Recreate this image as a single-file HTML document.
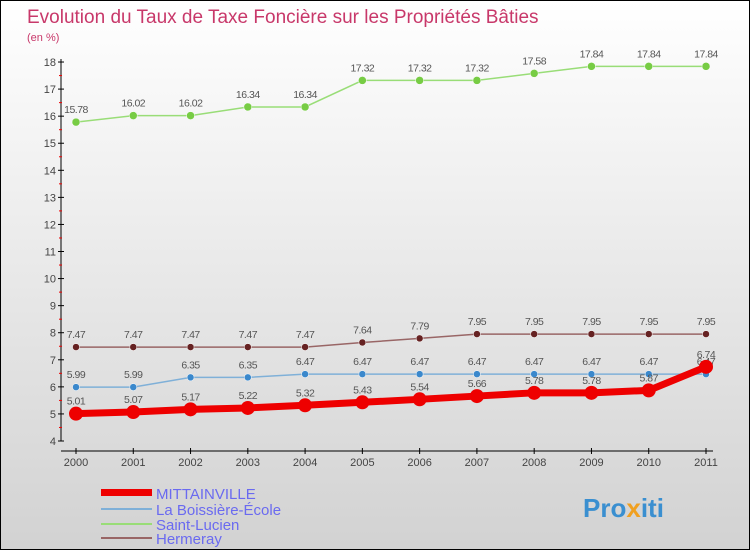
<!DOCTYPE html>
<html><head><meta charset="utf-8"><style>
body{margin:0}
#c{width:748px;height:548px;border:1px solid #000;background:linear-gradient(#fff,#d2d2d2);position:relative;font-family:"Liberation Sans",sans-serif;overflow:hidden}
</style></head><body>
<div id="c">
<svg id="s" width="748" height="548" style="position:absolute;left:0;top:0">
<text x="26" y="22" font-size="19" fill="#c8386a">Evolution du Taux de Taxe Foncière sur les Propriétés Bâties</text>
<text x="26" y="40" font-size="11" fill="#c8386a">(en %)</text>
<g id="ax"></g><g id="ser"></g>
<g>
<rect x="100" y="488" width="51" height="7" fill="#e00"/>
<text x="155" y="498" font-size="15" fill="#6a6af0">MITTAINVILLE</text>
<rect x="100" y="507" width="51" height="2" fill="#7fb0d8"/>
<text x="155" y="514" font-size="15" fill="#6a6af0">La Boissière-École</text>
<rect x="100" y="522" width="51" height="2" fill="#99dd77"/>
<text x="155" y="529" font-size="15" fill="#6a6af0">Saint-Lucien</text>
<rect x="100" y="536" width="51" height="2" fill="#996666"/>
<text x="155" y="543" font-size="15" fill="#6a6af0">Hermeray</text>
</g>
<text x="582" y="516" font-size="26" font-weight="bold" fill="#3a8fd0">Pro<tspan fill="#f0a020">x</tspan>iti</text>
</svg>
</div>
<script>
const years=[2000,2001,2002,2003,2004,2005,2006,2007,2008,2009,2010,2011];
const yTicks=[4,5,6,7,8,9,10,11,12,13,14,15,16,17,18];
const mittainville=[5.01,5.07,5.17,5.22,5.32,5.43,5.54,5.66,5.78,5.78,5.87,6.74];
const boissiere=[5.99,5.99,6.35,6.35,6.47,6.47,6.47,6.47,6.47,6.47,6.47,6.47];
const saintLucien=[15.78,16.02,16.02,16.34,16.34,17.32,17.32,17.32,17.58,17.84,17.84,17.84];
const hermeray=[7.47,7.47,7.47,7.47,7.47,7.64,7.79,7.95,7.95,7.95,7.95,7.95];
const NS="http://www.w3.org/2000/svg";
const X=i=>75+i*(630/11), Y=v=>440-(v-4)*27.07;
function mk(t,a,p){const e=document.createElementNS(NS,t);for(const k in a)e.setAttribute(k,a[k]);p.appendChild(e);return e;}
const ax=document.getElementById('ax'),ser=document.getElementById('ser');
mk('line',{x1:60,y1:58,x2:60,y2:440,stroke:'#000'},ax);
mk('line',{x1:60,y1:450,x2:712,y2:450,stroke:'#000'},ax);
yTicks.forEach(v=>{mk('line',{x1:57,y1:Y(v),x2:63,y2:Y(v),stroke:'#000'},ax);
 if(v<18)mk('line',{x1:58,y1:Y(v+0.5),x2:61,y2:Y(v+0.5),stroke:'#e00'},ax);
 const t=mk('text',{x:55,y:Y(v)+4,'font-size':11,fill:'#444','text-anchor':'end'},ax);t.textContent=v;
 });
years.forEach((yr,i)=>{mk('line',{x1:X(i),y1:447,x2:X(i),y2:453,stroke:'#000'},ax);
 const t=mk('text',{x:X(i),y:465,'font-size':11,fill:'#444','text-anchor':'middle'},ax);t.textContent=yr;
 });
function series(d,name,col,dot,w,r,hideLast){
 const g=mk('g',{},ser);
 mk('polyline',{points:d.map((v,i)=>X(i)+','+Y(v)).join(' '),fill:'none',stroke:col,'stroke-width':w},g);
 d.forEach((v,i)=>{const c=mk('circle',{cx:X(i),cy:Y(v),r:r,fill:dot,stroke:col==dot?'none':'#fff','stroke-width':0.5},g);
  
  const t=mk('text',{x:X(i),y:Y(v)-9,'font-size':10.5,fill:'#555','text-anchor':'middle','letter-spacing':'-0.5'},g);t.textContent=v.toFixed(2).replace(/0$/,'');
  });
}
series(saintLucien,'saint-lucien','#99dd77','#77cc44',1.5,4);
series(hermeray,'hermeray','#996666','#662222',1.5,3.5);
series(boissiere,'boissiere','#7fb0d8','#3a88cc',1.5,3.5);
series(mittainville,'mittainville','#ee0000','#ee0000',7,7);
</script>
</body></html>
